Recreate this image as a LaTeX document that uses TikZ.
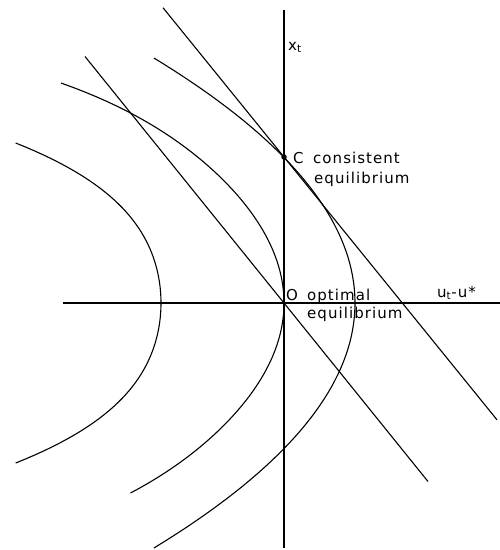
\documentclass[tikz,border=0pt]{standalone}
\usepackage{fontspec}
\newfontfamily\lab{DejaVu Sans}[LetterSpace=7]
\begin{document}
\begin{tikzpicture}[x=1pt,y=-1pt,
  ln/.style={line width=1.1pt,black},
  crv/.style={line width=1.1pt,black},
  lbl/.style={inner sep=0pt,anchor=base west,font=\lab\fontsize{15}{18}\selectfont}]
\useasboundingbox (0,0) rectangle (500,550);
% axes
\coordinate (vtop) at (284,10);
\coordinate (vbot) at (284,548);
\coordinate (hleft) at (63,303);
\coordinate (hright) at (500,303);
\draw[ln] (vtop) -- (vbot);
\draw[ln] (hleft) -- (hright);
% points
\coordinate (O) at (284,303);
\node[circle,fill=black,inner sep=0pt,minimum size=5.5pt] (C) at (284,157) {};
% straight lines
\coordinate (A1) at (85,56.5);
\coordinate (A2) at (428,481.5);
\draw[ln] (A1) -- (O) -- (A2);
\coordinate (B1) at (163,7.7);
\coordinate (B2) at (497,419.8);
\draw[ln] (B1) -- (C.center) -- (B2);
% curves
\draw[crv] plot[domain=-160:160,samples=80] ({161-35*(\x/100)^2-8.5*(\x/100)^4},{303+\x});
\draw[crv] plot[domain=-220:190,samples=90] ({284-40*(\x/100)^2-0.0536*(\x/100)^8},{303+\x});
\draw[crv] plot[domain=-245:245,samples=80] ({355-33.5*(\x/100)^2},{303+\x});
% labels
\node[lbl] (xt) at (288,50) {x\textsubscript{t}};
\node[lbl] (Cl) at (293,163) {C};
\node[lbl] (cons) at (313,163) {consistent};
\node[lbl] (ceq) at (314,183) {equilibrium};
\node[lbl] (Ol) at (286,300) {O};
\node[lbl] (opt) at (307,300) {optimal};
\node[lbl] (oeq) at (307,318) {equilibrium};
\node[lbl] (ut) at (437,297) {u\textsubscript{t}-u*};
\end{tikzpicture}
\end{document}
